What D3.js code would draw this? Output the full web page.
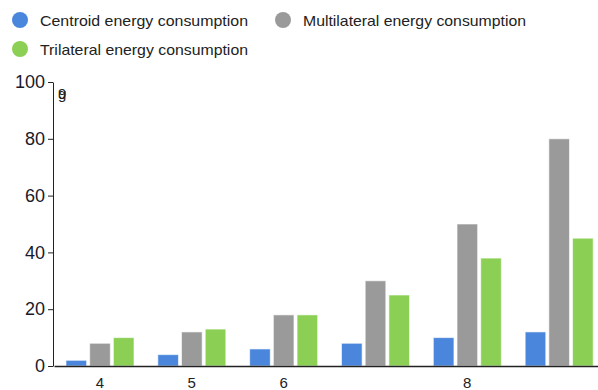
<!DOCTYPE html>
<html>
<head>
<meta charset="utf-8">
<script src="https://cdn.jsdelivr.net/npm/d3@7"></script>
<style>
  html, body { margin: 0; padding: 0; background: #fff; }
  svg { display: block; font-family: "Liberation Sans", Arial, sans-serif; }
</style>
</head>
<body>
<svg id="chart" width="598" height="390"></svg>
<script>
// Groups along the x axis and the label shown under each group
const categories = ["4", "5", "6", "7", "8", "9"];
const tickLabels = ["4", "5", "6", "", "8", ""];

// Energy consumption per method
const seriesNames = [
  "Centroid energy consumption",
  "Multilateral energy consumption",
  "Trilateral energy consumption"
];
const centroid = [2, 4, 6, 8, 10, 12];
const multilateral = [8, 12, 18, 30, 50, 80];
const trilateral = [10, 13, 18, 25, 38, 45];
const yTicks = [0, 20, 40, 60, 80, 100];

const colors = ["#4a86db", "#9a9a9a", "#8bd055"];
const seriesValues = [centroid, multilateral, trilateral];

const svg = d3.select("#chart");

const x0 = d3.scaleBand().domain(categories).range([54, 605]).paddingInner(0).paddingOuter(0);
const x1 = d3.scaleBand().domain(seriesNames).range([12, 80]).paddingInner(0.13).paddingOuter(0);
const y = d3.scaleLinear().domain([0, 100]).range([366, 82]);

// Bars
const groups = svg.append("g").selectAll("g")
  .data(categories)
  .join("g")
  .attr("transform", d => `translate(${x0(d)},0)`);

groups.selectAll("rect")
  .data((d, i) => seriesNames.map((s, k) => ({ s, k, v: seriesValues[k][i] })))
  .join("rect")
  .attr("x", d => x1(d.s))
  .attr("width", x1.bandwidth())
  .attr("y", d => y(d.v))
  .attr("height", d => y(0) - y(d.v))
  .attr("fill", d => colors[d.k])
  .attr("stroke", "rgba(255,255,255,0.6)")
  .attr("stroke-width", 1);

// Y axis
const yAxis = svg.append("g")
  .attr("transform", "translate(53,0)")
  .call(d3.axisLeft(y).tickValues(yTicks).tickSize(5).tickPadding(3).tickSizeOuter(0));
yAxis.select(".domain").attr("stroke", "#222");
yAxis.selectAll(".tick line").attr("stroke", "#222");
yAxis.selectAll(".tick text")
  .attr("fill", "#1a1a2a")
  .attr("font-size", 18)
  .attr("font-family", "Liberation Sans, Arial, sans-serif");

// Unit marker by the top of the y axis
svg.append("text").attr("x", 58).attr("y", 99).attr("font-size", 15).attr("fill", "#222").text("9");
svg.append("text").attr("x", 58).attr("y", 99).attr("font-size", 15).attr("fill", "#222").text("g");

// X axis
const xAxis = svg.append("g")
  .attr("transform", `translate(0,${y(0)})`)
  .call(d3.axisBottom(x0).tickSize(0).tickPadding(11).tickFormat((d, i) => tickLabels[i]));
xAxis.select(".domain").attr("stroke", "#222").attr("stroke-width", 1.5);
xAxis.selectAll(".tick text")
  .attr("fill", "#222")
  .attr("font-size", 15)
  .attr("font-family", "Liberation Sans, Arial, sans-serif");

// Legend
const legendPos = [[20, 20], [283, 20], [20, 49]];
const legend = svg.append("g").selectAll("g")
  .data(seriesNames)
  .join("g")
  .attr("transform", (d, i) => `translate(${legendPos[i][0]},${legendPos[i][1]})`);
legend.append("circle").attr("r", 8).attr("fill", (d, i) => colors[i]);
legend.append("text")
  .attr("x", 20).attr("y", 5.5)
  .attr("font-size", 14.5)
  .attr("fill", "#222")
  .attr("textLength", (d, i) => [208, 223, 208][i])
  .attr("lengthAdjust", "spacingAndGlyphs")
  .text(d => d);
</script>
</body>
</html>
